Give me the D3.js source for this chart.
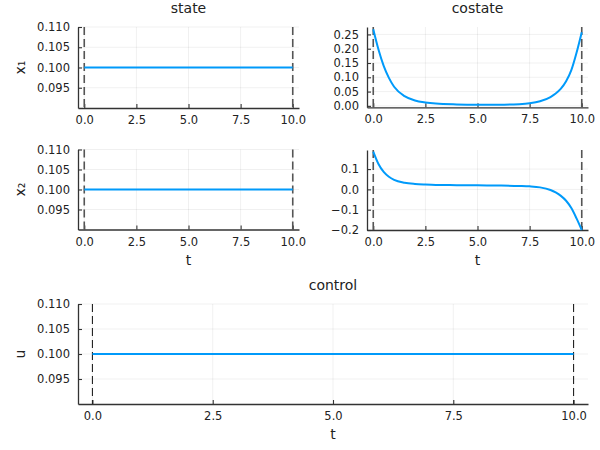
<!DOCTYPE html>
<html>
<head>
<meta charset="utf-8">
<script src="https://cdn.jsdelivr.net/npm/d3@7"></script>
<style>
  body { margin: 0; background: #fff; }
  text { font-family: "DejaVu Sans", sans-serif; fill: #222; }
</style>
</head>
<body>
<script>
// time grid
var tCostate = [0, 0.25, 0.5, 0.75, 1, 1.5, 2, 2.5, 3, 4, 5, 6, 7, 7.5, 8, 8.5, 8.75, 9, 9.25, 9.5, 9.75, 10];
var lambda1 = [0.268, 0.197, 0.140, 0.098, 0.067, 0.034, 0.019, 0.012, 0.008, 0.005, 0.004,
               0.004, 0.006, 0.009, 0.016, 0.031, 0.043, 0.060, 0.086, 0.125, 0.186, 0.258];
var lambda2 = [0.186, 0.125, 0.086, 0.062, 0.047, 0.033, 0.027, 0.024, 0.022, 0.021, 0.020,
               0.019, 0.017, 0.015, 0.010, -0.003, -0.015, -0.032, -0.056, -0.092, -0.143, -0.200];
// state and control are flat
var tFlat = [0, 10];
var x1 = [0.1, 0.1];
var x2 = [0.1, 0.1];
var u = [0.1, 0.1];
var xTicks = [0, 2.5, 5, 7.5, 10];
var flatTicks = [0.095, 0.100, 0.105, 0.110];
var lambda1Ticks = [0, 0.05, 0.10, 0.15, 0.20, 0.25];
var lambda2Ticks = [-0.2, -0.1, 0.0, 0.1];
var tBounds = [0, 10];

var svg = d3.select("body").append("svg")
  .attr("width", 600)
  .attr("height", 450);

function panel(o) {
  var x = d3.scaleLinear().domain([-0.3, 10.3]).range([o.left, o.right]);
  var y = d3.scaleLinear().domain(o.yDomain).range([o.bottom, o.top]);
  var g = svg.append("g");

  // grid
  g.selectAll(".gx").data(xTicks).enter().append("line")
    .attr("x1", d => x(d)).attr("x2", d => x(d))
    .attr("y1", o.top).attr("y2", o.bottom)
    .attr("stroke", "#000").attr("stroke-opacity", 0.08).attr("stroke-width", 0.8);
  g.selectAll(".gy").data(o.yTicks).enter().append("line")
    .attr("x1", o.left).attr("x2", o.right)
    .attr("y1", d => y(d)).attr("y2", d => y(d))
    .attr("stroke", "#000").attr("stroke-opacity", 0.08).attr("stroke-width", 0.8);

  // axes
  var xa = d3.axisBottom(x).tickValues(xTicks).tickFormat(d3.format(".1f"))
    .tickSizeInner(-4).tickSizeOuter(0).tickPadding(8);
  var ya = d3.axisLeft(y).tickValues(o.yTicks).tickFormat(d3.format(o.yFmt))
    .tickSizeInner(-4).tickSizeOuter(0).tickPadding(8);
  var gx = g.append("g").attr("transform", "translate(0," + o.bottom + ")").call(xa);
  var gy = g.append("g").attr("transform", "translate(" + o.left + ",0)").call(ya);
  [gx, gy].forEach(function (a) {
    a.select(".domain").attr("stroke", "#333").attr("stroke-width", 1.3);
    a.selectAll(".tick line").attr("stroke", "#333").attr("stroke-width", 1.1);
    a.selectAll("text").style("font-size", "11.5px").style("font-family", "DejaVu Sans").attr("fill", "#222");
  });
  gy.selectAll("text").text(d => d3.format(o.yFmt)(d).replace("-", "\u2212"));

  // dashed bounds
  g.selectAll(".bd").data(tBounds).enter().append("line")
    .attr("x1", d => x(d)).attr("x2", d => x(d))
    .attr("y1", o.top).attr("y2", o.bottom)
    .attr("stroke", o.dashColor).attr("stroke-width", o.dashWidth)
    .attr("stroke-dasharray", "8,4");

  // series
  var pts = o.t.map((t, i) => [t, o.v[i]]);
  g.append("path").datum(pts)
    .attr("fill", "none").attr("stroke", "#009AFA").attr("stroke-width", 2)
    .attr("d", d3.line().x(d => x(d[0])).y(d => y(d[1])).curve(d3.curveMonotoneX));

  var cx = (o.left + o.right) / 2;
  if (o.title) g.append("text").attr("x", cx).attr("y", o.top - 14)
    .attr("text-anchor", "middle").style("font-size", "14px").text(o.title);
  if (o.ylabel) g.append("text")
    .attr("transform", "translate(25," + ((o.top + o.bottom) / 2) + ") rotate(-90)")
    .attr("text-anchor", "middle").style("font-size", "14px").text(o.ylabel);
  if (o.xlabel) g.append("text").attr("x", cx).attr("y", o.bottom + 35)
    .attr("text-anchor", "middle").style("font-size", "14px").text(o.xlabel);
}

panel({ left: 78, right: 299, top: 27, bottom: 108, yDomain: [0.09, 0.11], yTicks: flatTicks, yFmt: ".3f",
        t: tFlat, v: x1, title: "state", ylabel: "x\u2081", dashColor: "#555", dashWidth: 1.6 });
panel({ left: 367, right: 588, top: 27, bottom: 107.3, yDomain: [-0.005, 0.276], yTicks: lambda1Ticks, yFmt: ".2f",
        t: tCostate, v: lambda1, title: "costate", dashColor: "#555", dashWidth: 1.6 });
panel({ left: 78, right: 299, top: 149.5, bottom: 229.5, yDomain: [0.09, 0.11], yTicks: flatTicks, yFmt: ".3f",
        t: tFlat, v: x2, ylabel: "x\u2082", xlabel: "t", dashColor: "#555", dashWidth: 1.6 });
panel({ left: 367, right: 588, top: 150, bottom: 230, yDomain: [-0.2, 0.194], yTicks: lambda2Ticks, yFmt: ".1f",
        t: tCostate, v: lambda2, xlabel: "t", dashColor: "#555", dashWidth: 1.6 });
panel({ left: 78, right: 588, top: 304, bottom: 404, yDomain: [0.09, 0.11], yTicks: flatTicks, yFmt: ".3f",
        t: tFlat, v: u, title: "control", ylabel: "u", xlabel: "t", dashColor: "#222", dashWidth: 1.1 });
</script>
</body>
</html>
